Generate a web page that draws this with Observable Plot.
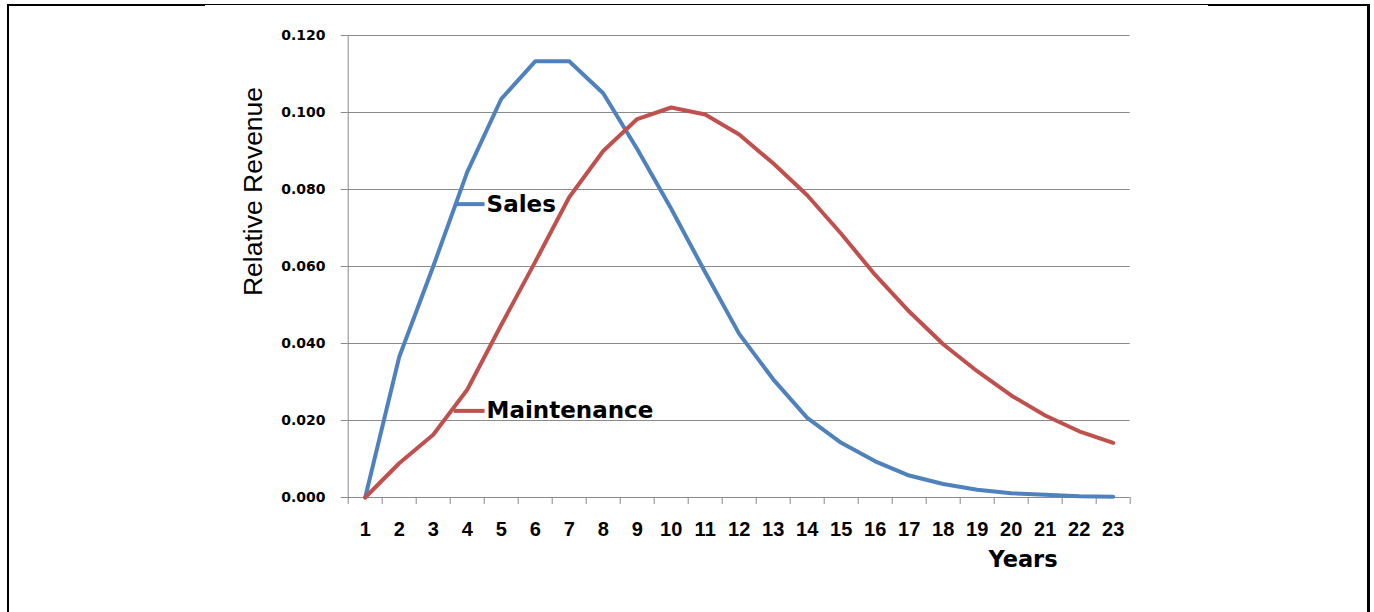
<!DOCTYPE html>
<html>
<head>
<meta charset="utf-8">
<script src="https://cdn.jsdelivr.net/npm/d3@7"></script>
<script src="https://cdn.jsdelivr.net/npm/@observablehq/plot@0.6"></script>
<style>
html, body { margin: 0; padding: 0; background: #fff; }
#wrap { position: relative; width: 1374px; height: 612px; overflow: hidden; background: #fff; }
#chart { position: absolute; left: 0; top: 0; }
.b { position: absolute; background: #000; }
</style>
</head>
<body>
<div id="wrap">
  <div id="chart"></div>
  <div class="b" style="left:7px;top:4px;width:198px;height:2px"></div>
  <div class="b" style="left:205px;top:4px;width:1003px;height:1px"></div>
  <div class="b" style="left:1208px;top:4px;width:162px;height:2px"></div>
  <div class="b" style="left:7px;top:4px;width:2px;height:608px"></div>
  <div class="b" style="left:1367px;top:4px;width:3px;height:608px"></div>
</div>
<script>
// ---- data ----
const years = [1,2,3,4,5,6,7,8,9,10,11,12,13,14,15,16,17,18,19,20,21,22,23];
const sales = [0, 0.0365, 0.0600, 0.0845, 0.1035, 0.1133, 0.1133, 0.1050, 0.0905, 0.0750,
               0.0585, 0.0425, 0.0307, 0.0207, 0.0142, 0.0094, 0.0057, 0.0035, 0.0020,
               0.0011, 0.0007, 0.0003, 0.0002];
const maintenance = [0, 0.0089, 0.0163, 0.0280, 0.0448, 0.0612, 0.0780, 0.0900, 0.0983, 0.1013,
                     0.0995, 0.0943, 0.0868, 0.0785, 0.0685, 0.0578, 0.0483, 0.0398, 0.0328,
                     0.0265, 0.0213, 0.0172, 0.0142];
const yTicks = [0, 0.02, 0.04, 0.06, 0.08, 0.10, 0.12];
const xBounds = [0.5,1.5,2.5,3.5,4.5,5.5,6.5,7.5,8.5,9.5,10.5,11.5,12.5,13.5,14.5,15.5,16.5,17.5,18.5,19.5,20.5,21.5,22.5,23.5];
// series labels (annotation anchors in data units)
const labelNames = ["Sales", "Maintenance"];
const labelLineStart = [3.68, 3.60];
const labelLineEnd = [4.51, 4.51];
const labelValue = [0.0762, 0.0225];
const labelTextAt = [4.57, 4.57];
const colors = {Sales: "#4F81BD", Maintenance: "#C0504D"};

const salesData = years.map((y, i) => ({year: y, value: sales[i]}));
const maintData = years.map((y, i) => ({year: y, value: maintenance[i]}));
const labels = labelNames.map((n, i) => ({name: n, x1: labelLineStart[i], x2: labelLineEnd[i], xt: labelTextAt[i], v: labelValue[i]}));

const grid = "#8a8a8a";
const bold = "DejaVu Sans";

const chart = Plot.plot({
  width: 1374,
  height: 612,
  marginLeft: 347.7,
  marginRight: 244.3,
  marginTop: 35,
  marginBottom: 115,
  style: {background: "transparent", overflow: "visible"},
  x: {domain: [0.5, 23.5]},
  y: {domain: [0, 0.12]},
  marks: [
    Plot.ruleY(yTicks, {stroke: grid, strokeWidth: 1}),
    Plot.ruleX([0.5], {stroke: grid, strokeWidth: 1}),
    Plot.axisY({ticks: yTicks, tickSize: 7, tickFormat: () => "", stroke: grid, label: null}),
    Plot.axisY({ticks: yTicks, tickSize: 0, tickPadding: 22.7, tickFormat: d3.format(".3f"),
                fontSize: 14, fontWeight: "bold", fontFamily: bold, fill: "#000", label: null}),
    Plot.axisX({ticks: xBounds, tickSize: 7, tickFormat: () => "", stroke: grid, label: null}),
    Plot.axisX({ticks: years, tickSize: 0, tickPadding: 24.7, tickFormat: d => String(d),
                fontSize: 20, fontWeight: "bold", fontFamily: "Liberation Sans", fill: "#000", label: null}),
    Plot.line(salesData, {x: "year", y: "value", stroke: colors.Sales, strokeWidth: 4,
                          strokeLinejoin: "round", strokeLinecap: "round"}),
    Plot.line(maintData, {x: "year", y: "value", stroke: colors.Maintenance, strokeWidth: 4,
                          strokeLinejoin: "round", strokeLinecap: "round"}),
    Plot.link(labels, {x1: "x1", x2: "x2", y1: "v", y2: "v", stroke: d => colors[d.name], strokeWidth: 4}),
    Plot.text(labels, {x: "xt", y: "v", text: "name", textAnchor: "start", lineAnchor: "middle",
                       fontSize: 23, fontWeight: "bold", fontFamily: bold, fill: "#000"}),
    Plot.text(["Years"], {frameAnchor: "bottom-right", dx: -107.2, dy: 62, textAnchor: "middle",
                          lineAnchor: "middle", fontSize: 22.5, fontWeight: "bold", fontFamily: bold, fill: "#000"}),
    Plot.text(["Relative Revenue"], {frameAnchor: "left", dx: -94.5, dy: -75, rotate: -90,
                          textAnchor: "middle", lineAnchor: "middle", fontSize: 26.5,
                          fontFamily: "Liberation Sans", fill: "#000"})
  ]
});
document.getElementById("chart").appendChild(chart);
</script>
</body>
</html>
